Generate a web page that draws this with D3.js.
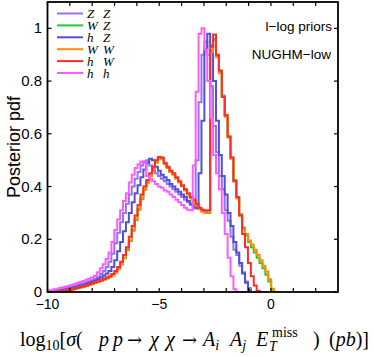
<!DOCTYPE html>
<html>
<head>
<meta charset="utf-8">
<script src="https://cdn.jsdelivr.net/npm/d3@7"></script>
<style>
  body { margin: 0; background: #fff; }
  svg { display: block; }
  text { white-space: pre; }
</style>
</head>
<body>
<div id="chart"></div>
<script>
// histogram bins: left edge of first bin and width
var binStart = -10;
var binWidth = 0.13;

var series_names = [["Z", "Z"], ["W", "Z"], ["h", "Z"], ["W", "W"], ["h", "W"], ["h", "h"]];
var series_colors = ["#9672ee", "#1fcc3a", "#5050d4", "#ff8c00", "#ff2a2a", "#ff5cff"];

var zz = [0.003,0.005,0.007,0.009,0.011,0.013,0.015,0.018,0.021,0.024,
  0.027,0.03,0.033,0.037,0.041,0.045,0.05,0.058,0.068,0.08,
  0.095,0.115,0.145,0.185,0.225,0.265,0.30,0.335,0.37,0.40,
  0.43,0.455,0.48,0.495,0.50,0.48,0.46,0.45,0.44,0.43,
  0.42,0.41,0.40,0.39,0.38,0.37,0.36,0.35,0.34,0.33,
  0.318,0.50,0.72,0.90,0.95,0.90,0.78,0.63,0.53,0.44,
  0.39,0.31,0.27,0.21,0.16,0.14,0.10,0.075,0.04,0.015,
  0,0,0,0,0,0,0,0];

var wz = [0,0,0,0,0.002,0.003,0.004,0.006,0.009,0.011,
  0.014,0.017,0.02,0.023,0.027,0.03,0.034,0.038,0.042,0.046,
  0.051,0.056,0.063,0.073,0.086,0.104,0.128,0.158,0.193,0.232,
  0.272,0.312,0.352,0.388,0.415,0.442,0.468,0.492,0.508,0.504,
  0.488,0.473,0.458,0.447,0.432,0.417,0.402,0.388,0.372,0.357,
  0.344,0.33,0.316,0.306,0.301,0.302,0.915,0.96,0.895,0.835,
  0.745,0.67,0.59,0.51,0.425,0.36,0.295,0.245,0.215,0.19,
  0.17,0.15,0.13,0.11,0.09,0.065,0.04,0.006];

var hz = [0,0.002,0.003,0.004,0.006,0.008,0.01,0.012,0.015,0.018,
  0.021,0.024,0.027,0.031,0.035,0.039,0.044,0.049,0.055,0.062,
  0.07,0.08,0.095,0.12,0.155,0.19,0.23,0.265,0.30,0.34,
  0.375,0.405,0.435,0.465,0.49,0.505,0.50,0.475,0.46,0.445,
  0.435,0.425,0.41,0.40,0.39,0.38,0.37,0.36,0.345,0.335,
  0.325,0.318,0.45,0.65,0.92,0.98,0.935,0.80,0.65,0.52,
  0.44,0.37,0.30,0.25,0.19,0.15,0.11,0.07,0.035,0.008,
  0,0,0,0,0,0,0,0];

var ww = [0,0,0,0.001,0.002,0.003,0.005,0.007,0.009,0.012,
  0.015,0.018,0.021,0.024,0.027,0.031,0.035,0.039,0.043,0.047,
  0.052,0.057,0.064,0.074,0.088,0.106,0.13,0.16,0.195,0.235,
  0.275,0.315,0.355,0.39,0.415,0.44,0.465,0.49,0.505,0.505,
  0.485,0.47,0.455,0.445,0.43,0.415,0.40,0.385,0.37,0.355,
  0.342,0.328,0.314,0.305,0.30,0.30,0.91,0.955,0.89,0.83,
  0.74,0.665,0.585,0.505,0.42,0.355,0.29,0.24,0.22,0.195,
  0.18,0.16,0.14,0.12,0.10,0.078,0.048,0.012];

var hw = [0,0,0,0.002,0.003,0.004,0.006,0.008,0.010,0.013,
  0.016,0.019,0.022,0.025,0.029,0.033,0.037,0.041,0.045,0.049,
  0.054,0.060,0.068,0.080,0.095,0.115,0.14,0.17,0.21,0.25,
  0.29,0.33,0.37,0.40,0.425,0.45,0.475,0.50,0.512,0.51,
  0.49,0.475,0.46,0.45,0.435,0.42,0.405,0.39,0.375,0.36,
  0.35,0.335,0.32,0.312,0.308,0.31,0.93,0.977,0.90,0.84,
  0.74,0.67,0.59,0.51,0.42,0.36,0.29,0.22,0.17,0.11,
  0.06,0.025,0.005,0,0,0,0,0];

var hh = [0.005,0.008,0.01,0.012,0.015,0.018,0.021,0.024,0.027,0.03,
  0.034,0.038,0.042,0.046,0.05,0.055,0.062,0.075,0.09,0.105,
  0.125,0.15,0.19,0.235,0.275,0.31,0.345,0.375,0.415,0.445,
  0.47,0.485,0.495,0.49,0.44,0.43,0.42,0.41,0.40,0.395,
  0.385,0.38,0.37,0.36,0.35,0.34,0.33,0.32,0.312,0.31,
  0.48,0.76,0.98,1.0,0.92,0.80,0.66,0.52,0.45,0.39,
  0.30,0.22,0.13,0.06,0.01,0,0,0,0,0,
  0,0,0,0,0,0,0,0];

var series_values = [zz, wz, hz, ww, hw, hh];

var xTicks = d3.range(-10, 3, 1);
var xTickLabels = [-10, -5, 0];
var yTicks = [0, 0.2, 0.4, 0.6, 0.8, 1];

var W = 374, H = 357;
var pLeft = 47.5, pRight = 338, pTop = 2, pBottom = 292;

var svg = d3.select("#chart").append("svg")
    .attr("width", W)
    .attr("height", H);

var x = d3.scaleLinear().domain([-10, 3]).range([pLeft, pRight]);
var y = d3.scaleLinear().domain([0, 1.1]).range([pBottom, pTop]);

svg.append("clipPath").attr("id", "plotclip")
    .append("rect")
    .attr("x", pLeft).attr("y", pTop)
    .attr("width", pRight - pLeft).attr("height", pBottom - pTop);

var lineGen = d3.line()
    .x(function(d) { return x(d[0]); })
    .y(function(d) { return y(d[1]); })
    .curve(d3.curveStepAfter);

function toSteps(vals) {
    var pts = vals.map(function(v, i) { return [binStart + i * binWidth, v]; });
    pts.push([binStart + vals.length * binWidth, 0]);
    return pts;
}

svg.append("g")
    .attr("clip-path", "url(#plotclip)")
    .selectAll("path")
    .data(series_values)
    .join("path")
    .attr("d", function(d) { return lineGen(toSteps(d)); })
    .attr("fill", "none")
    .attr("stroke", function(d, i) { return series_colors[i]; })
    .attr("stroke-width", 2);

// frame
svg.append("rect")
    .attr("x", pLeft).attr("y", pTop)
    .attr("width", pRight - pLeft).attr("height", pBottom - pTop)
    .attr("fill", "none")
    .attr("stroke", "black")
    .attr("stroke-width", 1.8);

var tickLen = 4;
var axisFont = "'Liberation Sans', Arial, sans-serif";

// x ticks, bottom and top, pointing inwards
var xt = svg.append("g");
xt.selectAll(".xb").data(xTicks).join("line")
    .attr("x1", d => x(d)).attr("x2", d => x(d))
    .attr("y1", pBottom).attr("y2", pBottom - tickLen)
    .attr("stroke", "black").attr("stroke-width", 1.2);
xt.selectAll(".xtop").data(xTicks).join("line")
    .attr("x1", d => x(d)).attr("x2", d => x(d))
    .attr("y1", pTop).attr("y2", pTop + tickLen)
    .attr("stroke", "black").attr("stroke-width", 1.2);
svg.append("g").selectAll("text").data(xTickLabels).join("text")
    .attr("x", d => x(d))
    .attr("y", 309)
    .attr("text-anchor", "middle")
    .attr("font-family", axisFont)
    .attr("font-size", 14)
    .text(d => d < 0 ? "\u2212" + Math.abs(d) : d);

// y ticks, left and right
var yt = svg.append("g");
yt.selectAll(".yl").data(yTicks).join("line")
    .attr("x1", pLeft).attr("x2", pLeft + tickLen)
    .attr("y1", d => y(d)).attr("y2", d => y(d))
    .attr("stroke", "black").attr("stroke-width", 1.2);
yt.selectAll(".yr").data(yTicks).join("line")
    .attr("x1", pRight).attr("x2", pRight - tickLen)
    .attr("y1", d => y(d)).attr("y2", d => y(d))
    .attr("stroke", "black").attr("stroke-width", 1.2);
svg.append("g").selectAll("text").data(yTicks).join("text")
    .attr("x", 42)
    .attr("y", d => y(d) + 5)
    .attr("text-anchor", "end")
    .attr("font-family", axisFont)
    .attr("font-size", 15)
    .text(d => d === 0 ? "0" : (d === 1 ? "1" : d.toFixed(1)));

// y label
svg.append("text")
    .attr("transform", "translate(20," + ((pTop + pBottom) / 2) + ") rotate(-90)")
    .attr("text-anchor", "middle")
    .attr("font-family", axisFont)
    .attr("font-size", 18)
    .text("Posterior pdf");

// annotations
svg.append("text")
    .attr("x", 332).attr("y", 31)
    .attr("text-anchor", "end")
    .attr("font-family", axisFont)
    .attr("font-size", 13.5)
    .text("l\u2212log priors");
svg.append("text")
    .attr("x", 331).attr("y", 59)
    .attr("text-anchor", "end")
    .attr("font-family", axisFont)
    .attr("font-size", 13.5)
    .text("NUGHM\u2212low");

// legend
var serif = "'Liberation Serif', 'Times New Roman', serif";
var legend = svg.append("g");
series_names.forEach(function(n, i) {
    var ly = 13.5 + i * 11.9;
    legend.append("line")
        .attr("x1", 57).attr("x2", 83)
        .attr("y1", ly).attr("y2", ly)
        .attr("stroke", series_colors[i])
        .attr("stroke-width", 2);
    var t = legend.append("text")
        .attr("y", ly + 4.5)
        .attr("font-family", serif)
        .attr("font-style", "italic")
        .attr("font-size", 13);
    t.append("tspan").attr("x", 87).text(n[0]);
    t.append("tspan").attr("x", 103).text(n[1]);
});

// x label (math), pieces placed like the TeX output
var arrowFont = "'DejaVu Serif', serif";
var xl = svg.append("text")
    .attr("y", 346)
    .attr("font-family", serif)
    .attr("font-size", 20);
xl.append("tspan").attr("x", 20).text("log");
xl.append("tspan").attr("dy", 4).attr("font-size", 14).text("10");
xl.append("tspan").attr("dy", -4).text("[");
xl.append("tspan").attr("font-style", "italic").text("\u03c3");
xl.append("tspan").text("(");
xl.append("tspan").attr("x", 99).attr("font-style", "italic").text("p");
xl.append("tspan").attr("x", 113).attr("font-style", "italic").text("p");
xl.append("tspan").attr("x", 127).attr("font-family", arrowFont).attr("font-size", 18).text("\u2192");
xl.append("tspan").attr("x", 150).attr("font-style", "italic").text("\u03c7");
xl.append("tspan").attr("x", 166).attr("font-style", "italic").text("\u03c7");
xl.append("tspan").attr("x", 182).attr("font-family", arrowFont).attr("font-size", 18).text("\u2192");
xl.append("tspan").attr("x", 203).attr("font-style", "italic").text("A");
xl.append("tspan").attr("dy", 4).attr("font-size", 14).attr("font-style", "italic").text("i");
xl.append("tspan").attr("x", 230).attr("dy", -4).attr("font-style", "italic").text("A");
xl.append("tspan").attr("dy", 4).attr("font-size", 14).attr("font-style", "italic").text("j");
xl.append("tspan").attr("x", 256).attr("dy", -4).attr("font-style", "italic").text("E");
xl.append("tspan").attr("x", 269).attr("dy", 5).attr("font-size", 14).attr("font-style", "italic").text("T");
xl.append("tspan").attr("x", 272).attr("dy", -14).attr("font-size", 14).text("miss");
xl.append("tspan").attr("x", 313).attr("dy", 9).text(")");
xl.append("tspan").attr("x", 329).text("(");
xl.append("tspan").attr("font-style", "italic").text("pb");
xl.append("tspan").text(")]");
</script>
</body>
</html>
